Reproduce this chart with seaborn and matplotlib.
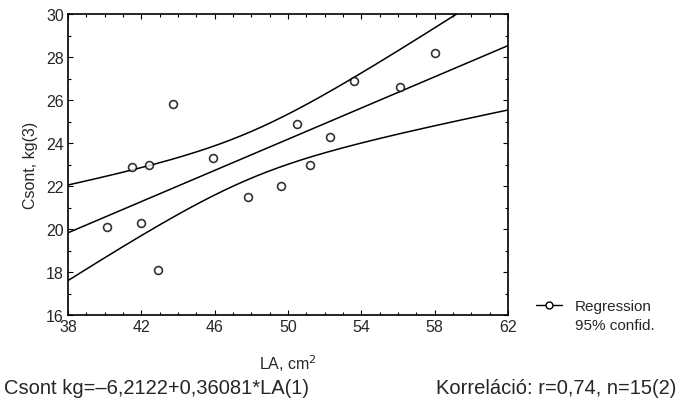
import numpy as np
import pandas as pd
import seaborn as sns
import matplotlib
matplotlib.use("Agg")
import matplotlib.pyplot as plt
from matplotlib.lines import Line2D
from matplotlib.ticker import MultipleLocator

# ---- data ----
la_cm2 = [40.1, 41.5, 42.0, 42.4, 42.9, 43.7, 45.9, 47.8, 49.6, 50.5, 51.2, 52.3, 53.6, 56.1, 58.0]
csont_kg = [20.1, 22.9, 20.3, 23.0, 18.1, 25.8, 23.3, 21.5, 22.0, 24.9, 23.0, 24.3, 26.9, 26.6, 28.2]
x_ticks = [38, 42, 46, 50, 54, 58, 62]
y_ticks = [16, 18, 20, 22, 24, 26, 28, 30]
t_crit = 2.1604  # Student t, 0.975, df = 13

df = pd.DataFrame({"LA": la_cm2, "Csont": csont_kg})

sns.set_style("ticks")
plt.rcParams["font.family"] = ["Liberation Sans", "DejaVu Sans"]

fig = plt.figure(figsize=(6.8, 4.02), dpi=100)
ax = fig.add_axes([68 / 680, 1 - 316 / 402, 440 / 680, 301 / 402])
ax.set_xlim(38, 62)
ax.set_ylim(16, 30)

# regression line + points
sns.regplot(data=df, x="LA", y="Csont", ax=ax, ci=None, truncate=False,
            scatter_kws=dict(s=32, facecolor="white", edgecolor="black", linewidths=1.2, zorder=3),
            line_kws=dict(color="black", lw=1.1), color="black")

# 95% confidence band drawn as two curves
xv = np.asarray(la_cm2, float)
yv = np.asarray(csont_kg, float)
n = len(xv)
b, a = np.polyfit(xv, yv, 1)
resid = yv - (a + b * xv)
s = np.sqrt(np.sum(resid ** 2) / (n - 2))
sxx = np.sum((xv - xv.mean()) ** 2)
grid = np.linspace(38, 62, 200)
half = t_crit * s * np.sqrt(1 / n + (grid - xv.mean()) ** 2 / sxx)
band = pd.DataFrame({"x": np.concatenate([grid, grid]),
                     "y": np.concatenate([a + b * grid + half, a + b * grid - half]),
                     "side": ["upper"] * len(grid) + ["lower"] * len(grid)})
sns.lineplot(data=band, x="x", y="y", units="side", estimator=None, color="black", lw=1.1, ax=ax)

ax.set_xticks(x_ticks)
ax.set_yticks(y_ticks)
ax.xaxis.set_minor_locator(MultipleLocator(1))
ax.yaxis.set_minor_locator(MultipleLocator(1))
ax.tick_params(which="both", direction="in", top=True, right=True, color="black", width=0.8)
ax.tick_params(which="major", length=3.5, labelsize=11.5, pad=3)
ax.tick_params(which="minor", length=2)
for sp in ax.spines.values():
    sp.set_visible(True)
    sp.set_linewidth(1.2)
    sp.set_color("black")

ax.set_xlabel("LA, cm$^2$", fontsize=11.5, labelpad=13)
ax.set_ylabel("Csont, kg(3)", fontsize=11.5, labelpad=6)

# legend outside
h1 = Line2D([], [], color="black", lw=1.0, marker="o", mfc="white", mec="black", ms=5)
h2 = Line2D([], [], color="none", lw=0)
fig.legend([h1, h2], ["Regression", "95% confid."], loc="upper left",
           bbox_to_anchor=(536 / 680, 1 - 300 / 402), frameon=False, fontsize=11,
           handlelength=1.7, handletextpad=0.85, labelspacing=0.3, borderpad=0, borderaxespad=0)

fig.text(4 / 680, 1 - 389 / 402, "Csont kg=\u20136,2122+0,36081*LA(1)", fontsize=14.5, va="center", ha="left")
fig.text(676 / 680, 1 - 389 / 402, "Korreláció: r=0,74, n=15(2)", fontsize=14.5, va="center", ha="right")

fig.savefig("out.png", dpi=100)
